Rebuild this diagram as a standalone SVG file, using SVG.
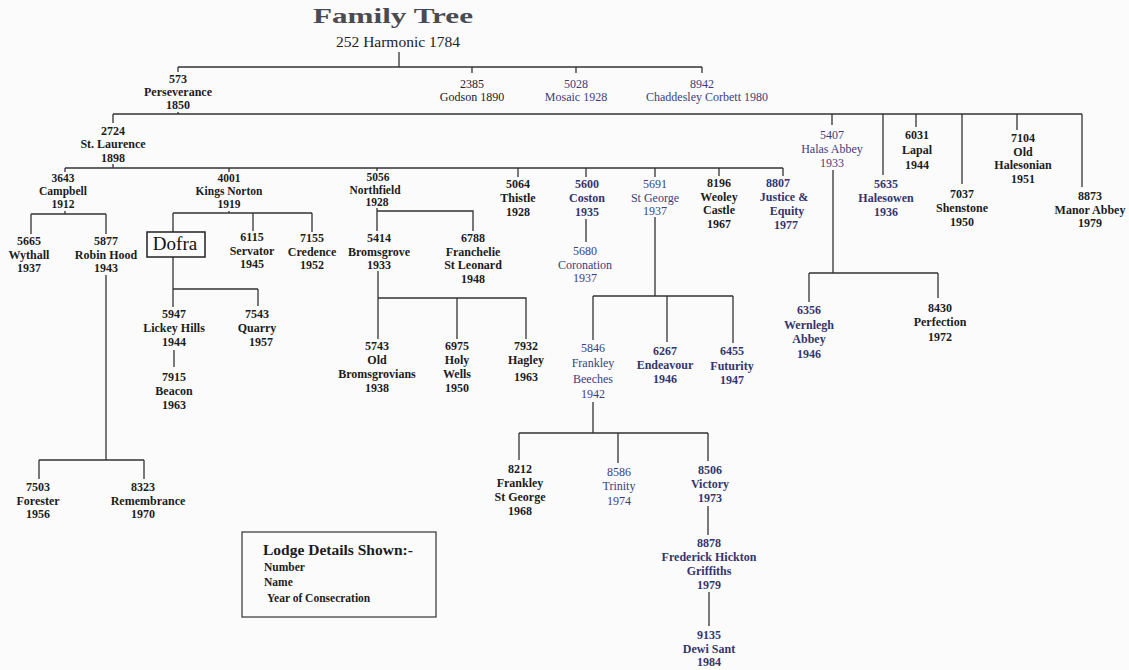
<svg xmlns="http://www.w3.org/2000/svg" width="1129" height="670" viewBox="0 0 1129 670">
<style>
text{font-family:"Liberation Serif","Times New Roman",serif;font-size:12px;text-anchor:middle}
.b{font-weight:bold;fill:#1c1c1c}
.r{fill:#22222c}
.n{fill:#3d3d7c}
.nb{font-weight:bold;fill:#34346e}
.s text{font-size:11.5px}
.lg{text-anchor:start;font-weight:bold;fill:#1c1c1c}
#connectors path{stroke:#333;stroke-width:1.3;fill:none}
</style>
<rect width="1129" height="670" fill="#fbfbfb"/>
<text x="393" y="23" style="font-size:22px;font-weight:bold;fill:#4a4a52" textLength="160" lengthAdjust="spacingAndGlyphs">Family Tree</text>
<g id="connectors">
<path d="M399,52V67M178,67H702M178,67V72M472,67V73M576,67V73M702,67V73"/>
<path d="M178,112V114M113,114H1082M113,114V123M832,114V125M883,114V175M916,114V127M962,114V184M1017,114V130M1082,114V187"/>
<path d="M113,164V168M65,168H783M65,168V172M229,168V172M377,168V171M518,168V177M586,168V177M655,168V177M719,168V176M783,168V176"/>
<path d="M65,211V214M31,214H106M31,214V234M106,214V234"/>
<path d="M229,211V213M173,213H312M173,213V232M253,213V231M312,213V232"/>
<path d="M173,257V289M173,289H258M173,289V307M258,289V306"/>
<path d="M174,350V367"/>
<path d="M106,275V460M39,460H144M39,460V479M144,460V479"/>
<path d="M377,208V231M377,211H473V231"/>
<path d="M378,271V339M378,298H526V339M457,298V339"/>
<path d="M586,219V242"/>
<path d="M655,217V296M593,296H733M593,296V340M667,296V342M733,296V343"/>
<path d="M593,402V433M519,433H708M519,433V460M618,433V463M708,433V461"/>
<path d="M708,506V535"/>
<path d="M709,592V626"/>
<path d="M833,170V273M809,273H938M809,273V302M938,273V298"/>
</g>
<g id="n252"><text x="398" y="47" class="r" style="font-size:15.5px">252 Harmonic 1784</text></g>
<g id="n573" class="b"><text x="178" y="83">573</text><text x="178" y="96">Perseverance</text><text x="178" y="109">1850</text></g>
<g id="n2385" class="r"><text x="472" y="88">2385</text><text x="472" y="101">Godson 1890</text></g>
<g id="n5028" class="n"><text x="576" y="88">5028</text><text x="576" y="101">Mosaic 1928</text></g>
<g id="n8942" class="n"><text x="702" y="88">8942</text><text x="707" y="101">Chaddesley Corbett 1980</text></g>
<g id="n2724" class="b"><text x="113" y="135">2724</text><text x="113" y="148">St. Laurence</text><text x="113" y="161.5">1898</text></g>
<g id="n5407" class="n"><text x="832" y="139">5407</text><text x="832" y="153">Halas Abbey</text><text x="832" y="166.5">1933</text></g>
<g id="n5635" class="nb"><text x="886" y="188">5635</text><text x="886" y="202">Halesowen</text><text x="886" y="216">1936</text></g>
<g id="n6031" class="b"><text x="917" y="139">6031</text><text x="917" y="154">Lapal</text><text x="917" y="169">1944</text></g>
<g id="n7037" class="b"><text x="962" y="198">7037</text><text x="962" y="212">Shenstone</text><text x="962" y="226">1950</text></g>
<g id="n7104" class="b"><text x="1023" y="142">7104</text><text x="1023" y="155.5">Old</text><text x="1023" y="169">Halesonian</text><text x="1023" y="182.5">1951</text></g>
<g id="n8873" class="b"><text x="1090" y="200">8873</text><text x="1090" y="213.5">Manor Abbey</text><text x="1090" y="227">1979</text></g>
<g id="n3643" class="b s"><text x="63" y="182">3643</text><text x="63" y="195">Campbell</text><text x="63" y="208">1912</text></g>
<g id="n4001" class="b s"><text x="229" y="182">4001</text><text x="229" y="195">Kings Norton</text><text x="229" y="208">1919</text></g>
<g id="n5056" class="b s"><text x="378" y="181">5056</text><text x="375" y="193.5">Northfield</text><text x="377" y="206">1928</text></g>
<g id="n5064" class="b"><text x="518" y="188">5064</text><text x="518" y="201.5">Thistle</text><text x="518" y="216">1928</text></g>
<g id="n5600" class="nb"><text x="587" y="188">5600</text><text x="587" y="201.5">Coston</text><text x="587" y="216">1935</text></g>
<g id="n5691" class="n"><text x="655" y="188">5691</text><text x="655" y="201.5">St George</text><text x="655" y="215">1937</text></g>
<g id="n8196" class="b"><text x="719" y="187">8196</text><text x="719" y="200.5">Weoley</text><text x="719" y="214">Castle</text><text x="719" y="227.5">1967</text></g>
<g id="n8807" class="nb"><text x="778" y="187">8807</text><text x="784" y="201">Justice &amp;</text><text x="787" y="215">Equity</text><text x="786" y="229">1977</text></g>
<g id="n5665" class="b"><text x="29" y="245">5665</text><text x="29" y="258.5">Wythall</text><text x="29" y="272">1937</text></g>
<g id="n5877" class="b"><text x="106" y="245">5877</text><text x="106" y="258.5">Robin Hood</text><text x="106" y="272">1943</text></g>
<g id="dofra"><rect x="147" y="232" width="58" height="25" fill="none" stroke="#222" stroke-width="1.5"/><text x="175" y="250" style="font-size:19px;fill:#111">Dofra</text></g>
<g id="n6115" class="b"><text x="252" y="241">6115</text><text x="252" y="254.5">Servator</text><text x="252" y="268">1945</text></g>
<g id="n7155" class="b"><text x="312" y="242">7155</text><text x="312" y="255.5">Credence</text><text x="312" y="269">1952</text></g>
<g id="n5414" class="b"><text x="379" y="242">5414</text><text x="379" y="255.5">Bromsgrove</text><text x="379" y="269">1933</text></g>
<g id="n6788" class="b"><text x="473" y="242">6788</text><text x="473" y="255.5">Franchelie</text><text x="473" y="269">St Leonard</text><text x="473" y="282.5">1948</text></g>
<g id="n5680" class="n"><text x="585" y="255">5680</text><text x="585" y="268.5">Coronation</text><text x="585" y="282">1937</text></g>
<g id="n5947" class="b"><text x="174" y="318">5947</text><text x="174" y="332">Lickey Hills</text><text x="174" y="346">1944</text></g>
<g id="n7543" class="b"><text x="257" y="318">7543</text><text x="257" y="332">Quarry</text><text x="261" y="346">1957</text></g>
<g id="n7915" class="b"><text x="174" y="381">7915</text><text x="174" y="395">Beacon</text><text x="174" y="408.5">1963</text></g>
<g id="n5743" class="b"><text x="377" y="350">5743</text><text x="377" y="364">Old</text><text x="377" y="378">Bromsgrovians</text><text x="377" y="392">1938</text></g>
<g id="n6975" class="b"><text x="457" y="350">6975</text><text x="457" y="364">Holy</text><text x="457" y="378">Wells</text><text x="457" y="392">1950</text></g>
<g id="n7932" class="b"><text x="526" y="350">7932</text><text x="526" y="364">Hagley</text><text x="526" y="381">1963</text></g>
<g id="n5846" class="n"><text x="593" y="352">5846</text><text x="593" y="367">Frankley</text><text x="593" y="383">Beeches</text><text x="593" y="398">1942</text></g>
<g id="n6267" class="nb"><text x="665" y="355">6267</text><text x="665" y="369">Endeavour</text><text x="665" y="383">1946</text></g>
<g id="n6455" class="nb"><text x="732" y="355">6455</text><text x="732" y="370">Futurity</text><text x="732" y="384">1947</text></g>
<g id="n6356" class="nb"><text x="809" y="314">6356</text><text x="809" y="329">Wernlegh</text><text x="809" y="343">Abbey</text><text x="809" y="358">1946</text></g>
<g id="n8430" class="b"><text x="940" y="312">8430</text><text x="940" y="326">Perfection</text><text x="940" y="341">1972</text></g>
<g id="n7503" class="b"><text x="38" y="491">7503</text><text x="38" y="504.5">Forester</text><text x="38" y="518">1956</text></g>
<g id="n8323" class="b"><text x="143" y="491">8323</text><text x="148" y="504.5">Remembrance</text><text x="143" y="518">1970</text></g>
<g id="n8212" class="b"><text x="520" y="473">8212</text><text x="520" y="487">Frankley</text><text x="520" y="501">St George</text><text x="520" y="515">1968</text></g>
<g id="n8586" class="n"><text x="619" y="476">8586</text><text x="619" y="490">Trinity</text><text x="619" y="505">1974</text></g>
<g id="n8506" class="nb"><text x="710" y="474">8506</text><text x="710" y="488">Victory</text><text x="710" y="502">1973</text></g>
<g id="n8878" class="nb"><text x="709" y="547">8878</text><text x="709" y="561">Frederick Hickton</text><text x="709" y="575">Griffiths</text><text x="709" y="589">1979</text></g>
<g id="n9135" class="nb"><text x="709" y="639">9135</text><text x="709" y="652.5">Dewi Sant</text><text x="709" y="666">1984</text></g>
<g id="legend"><rect x="242" y="532" width="194" height="85" fill="none" stroke="#333" stroke-width="1.2"/>
<text x="263" y="555" class="lg" style="font-size:15.5px">Lodge Details Shown:-</text>
<text x="264" y="571" class="lg" style="font-size:11.5px">Number</text>
<text x="264" y="586" class="lg" style="font-size:11.5px">Name</text>
<text x="267" y="602" class="lg" style="font-size:11.5px">Year of Consecration</text></g>
</svg>
